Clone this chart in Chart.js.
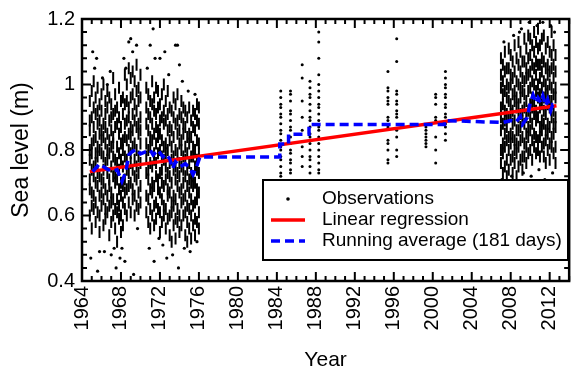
<!DOCTYPE html>
<html lang="en">
<head>
  <meta charset="UTF-8">
  <title>Sea level</title>
  <script src="https://cdn.jsdelivr.net/npm/chart.js"></script>
  <style>
    body { margin: 0; background: #fff; }
  </style>
</head>
<body>
  <canvas id="seaChart" width="579" height="376"></canvas>

  <script>
    // tick labels
    const xTicks = [1964, 1968, 1972, 1976, 1980, 1984, 1988, 1992, 1996, 2000, 2004, 2008, 2012];
    const yTicks = [0.4, 0.6, 0.8, 1, 1.2];

    // dense tide-gauge periods: one column of readings every ~0.2 yr
    const denseYears = [
      1964.8, 1965.0, 1965.2, 1965.4, 1965.6, 1965.8, 1966.0, 1966.2, 1966.4, 1966.6, 1966.8,
      1967.0, 1967.2, 1967.4, 1967.6, 1967.8, 1968.0, 1968.2, 1968.4, 1968.6, 1968.8,
      1969.0, 1969.2, 1969.4, 1969.6, 1969.8, 1970.0,
      1970.6, 1970.8, 1971.0, 1971.2, 1971.4, 1971.6, 1971.8, 1972.0, 1972.2, 1972.4, 1972.6,
      1972.8, 1973.0, 1973.2, 1973.4, 1973.6, 1973.8, 1974.0, 1974.2, 1974.4, 1974.6, 1974.8,
      1975.0, 1975.2, 1975.4, 1975.6, 1975.8, 1976.0,
      2007.0, 2007.2, 2007.4, 2007.6, 2007.8, 2008.0, 2008.2, 2008.4, 2008.6, 2008.8,
      2009.0, 2009.2, 2009.4, 2009.6, 2009.8, 2010.0, 2010.2, 2010.4, 2010.6, 2010.8,
      2011.0, 2011.2, 2011.4, 2011.6, 2011.8, 2012.0, 2012.2, 2012.4, 2012.6
    ];
    const denseValues = [
      [.60,.68,.71,.77,.80,.86,.89,.95], [.56,.63,.67,.74,.79,.82,.90,.98], [.62,.66,.72,.75,.83,.87,.93,1.01],
      [.58,.64,.70,.76,.79,.84,.91,.96], [.61,.69,.73,.78,.81,.88,.92,.99], [.55,.60,.66,.72,.80,.85,.89,.94],
      [.63,.67,.71,.79,.83,.86,.92,.97], [.57,.65,.70,.74,.78,.84,.88,1.00], [.59,.62,.68,.76,.82,.87,.91,.95],
      [.61,.66,.73,.77,.80,.85,.93,.98], [.54,.63,.69,.71,.79,.83,.89,.96],
      [.58,.64,.67,.75,.81,.86,.90,.94], [.60,.65,.72,.78,.82,.84,.91,1.02], [.56,.62,.70,.73,.77,.87,.92,.97],
      [.52,.61,.65,.71,.76,.81,.88,.93], [.59,.63,.68,.74,.79,.85,.90,.99], [.55,.60,.66,.70,.77,.82,.87,.95],
      [.57,.64,.69,.75,.80,.83,.91,.96], [.62,.67,.71,.78,.84,.88,.94,1.03], [.60,.68,.74,.77,.83,.89,.95,1.00],
      [.64,.69,.73,.80,.85,.90,.93,1.05],
      [.61,.70,.76,.79,.84,.87,.96,1.02], [.65,.68,.74,.81,.86,.91,.97,1.04], [.60,.66,.72,.77,.82,.89,.94,1.01],
      [.63,.71,.75,.80,.87,.92,.98,1.06], [.62,.67,.73,.78,.85,.88,.95,.99], [.64,.69,.76,.82,.86,.90,.96,1.03],
      [.61,.66,.73,.78,.82,.88,.93,.99], [.58,.65,.71,.74,.80,.86,.91,.97], [.56,.62,.68,.76,.81,.84,.90,.95],
      [.60,.67,.70,.75,.83,.88,.94,1.01], [.57,.63,.69,.77,.79,.85,.92,.96], [.59,.64,.72,.76,.82,.87,.91,.99],
      [.62,.68,.71,.79,.84,.86,.93,.98], [.55,.61,.67,.73,.80,.85,.89,.94], [.58,.65,.70,.74,.78,.83,.90,.97],
      [.60,.63,.69,.77,.81,.88,.92,1.00], [.56,.62,.71,.75,.79,.82,.89,.95],
      [.59,.66,.68,.73,.80,.86,.91,.98], [.54,.60,.67,.72,.76,.83,.87,.93], [.52,.61,.64,.70,.77,.81,.86,.92],
      [.57,.63,.66,.74,.78,.84,.90,.96], [.53,.59,.65,.71,.75,.80,.88,.94], [.58,.62,.69,.73,.79,.85,.89,.97],
      [.55,.60,.67,.72,.76,.82,.86,.91], [.57,.64,.68,.75,.80,.83,.90,.95], [.60,.65,.70,.74,.78,.85,.88,.93],
      [.54,.61,.66,.72,.77,.81,.87,.92], [.52,.58,.63,.69,.74,.79,.84,.90],
      [.56,.62,.67,.71,.76,.82,.85,.93], [.53,.60,.65,.70,.73,.78,.84,.89], [.57,.63,.69,.72,.78,.81,.87,.92],
      [.54,.59,.64,.70,.75,.80,.86,.91], [.58,.65,.68,.74,.77,.83,.89,.94], [.56,.61,.67,.73,.79,.82,.88,.93],
      [.76,.80,.86,.90,.93,.99,1.03,1.08], [.73,.79,.82,.88,.94,.97,1.01,1.06], [.75,.81,.85,.89,.92,.98,1.04,1.10],
      [.72,.77,.83,.87,.91,.96,1.00,1.05], [.74,.80,.84,.90,.95,.99,1.05,1.11], [.77,.82,.85,.91,.94,1.00,1.03,1.09],
      [.73,.78,.84,.88,.92,.97,1.02,1.07], [.76,.80,.83,.89,.95,.98,1.04,1.12], [.72,.79,.82,.86,.93,.96,1.01,1.08],
      [.75,.81,.86,.90,.94,1.00,1.06,1.13],
      [.77,.83,.87,.91,.96,.99,1.04,1.10], [.74,.78,.84,.89,.92,.98,1.02,1.07], [.78,.82,.88,.93,.97,1.01,1.07,1.14],
      [.76,.81,.85,.90,.95,1.02,1.05,1.11], [.79,.84,.87,.92,.98,1.03,1.08,1.15], [.80,.86,.90,.94,.99,1.04,1.09,1.14],
      [.77,.83,.88,.93,.96,1.01,1.06,1.12], [.81,.85,.91,.95,1.00,1.05,1.10,1.16], [.79,.84,.89,.92,.98,1.03,1.07,1.13],
      [.80,.83,.90,.96,1.00,1.06,1.11,1.17],
      [.78,.84,.87,.93,.97,1.02,1.06,1.12], [.81,.86,.89,.94,.99,1.04,1.08,1.14], [.78,.82,.88,.92,.96,1.01,1.07,1.15],
      [.76,.83,.86,.91,.97,1.00,1.05,1.11], [.80,.85,.88,.94,.98,1.03,1.06,1.13], [.77,.82,.87,.93,.95,1.00,1.04,1.10],
      [.81,.84,.90,.95,.99,1.05,1.09,1.16], [.79,.85,.88,.92,.97,1.02,1.06,1.12], [.76,.81,.87,.90,.96,.99,1.04,1.09]
    ];

    // scattered extreme readings within the dense periods
    const outliers = [
      [1964.9, 0.47], [1965.1, 1.10], [1965.3, 1.05], [1965.5, 1.08], [1965.6, 0.43], [1965.8, 0.49],
      [1966.1, 1.02], [1966.3, 0.49], [1966.6, 1.00], [1966.9, 1.04], [1967.0, 0.48], [1967.3, 0.50],
      [1967.5, 0.44], [1967.9, 0.47], [1968.1, 0.50], [1968.3, 1.08], [1968.4, 0.46], [1968.5, 1.05],
      [1968.8, 1.13], [1969.0, 1.14], [1969.2, 1.10], [1969.3, 0.42], [1969.6, 1.12], [1969.7, 0.56],
      [1970.7, 1.05], [1970.9, 0.50], [1971.0, 1.12], [1971.3, 1.17], [1971.4, 0.46], [1971.5, 1.08],
      [1971.9, 0.53], [1972.0, 1.08], [1972.3, 0.51], [1972.5, 1.10], [1972.7, 0.47], [1972.9, 1.03],
      [1973.3, 0.48], [1973.6, 1.12], [1973.8, 1.12], [1973.9, 0.44], [1974.0, 1.06], [1974.3, 1.01],
      [1974.5, 0.50], [1974.9, 0.98], [1975.1, 0.49], [1975.6, 0.97], [1975.8, 0.52],
      [2007.1, 0.71], [2007.3, 1.13], [2007.5, 0.70], [2008.1, 0.72], [2008.3, 1.15], [2008.7, 0.69],
      [2008.9, 1.16], [2009.1, 1.17], [2009.3, 0.73], [2009.9, 1.19], [2010.1, 0.72], [2010.7, 1.18],
      [2010.9, 0.74], [2011.3, 1.19], [2011.5, 0.71], [2012.1, 1.18], [2012.3, 0.73], [2012.5, 1.16]
    ];

    // short survey campaigns between the long records
    const sparseYears = [1984.4, 1985.4, 1986.6, 1987.4, 1988.3, 1995.4, 1996.3, 1999.3, 2000.3, 2001.3];
    const sparseValues = [
      [.98,.96,.94,.93,.91,.90,.88,.86,.85,.83,.81,.80,.78,.77,.75,.73,.72],
      [.98,.97,.95,.92,.91,.89,.87,.86,.84,.82,.80,.79,.77,.76,.74,.73],
      [1.06,1.02,.95,.90,.86,.81,.78,.75],
      [1.01,.99,.97,.96,.94,.92,.90,.89,.87,.85,.84,.82,.80,.78,.77,.75,.73],
      [1.16,1.13,1.08,1.03,1.00,.98,.96,.94,.93,.91,.89,.87,.86,.84,.82,.80,.78,.76,.74,.73],
      [1.04,.99,.98,.96,.95,.94,.90,.89,.87,.83,.82,.80,.77,.76],
      [1.14,1.07,.98,.97,.95,.94,.92,.91,.90,.86,.84,.80,.78],
      [.87,.86,.85,.84,.83,.82,.81],
      [.97,.96,.94,.90,.89,.84,.80,.76],
      [1.04,1.02,1.00,.99,.97,.96,.94,.93,.91,.90,.88,.87,.85,.83]
    ];

    // linear regression end points
    const fitYears = [1964.8, 2012.7];
    const fitValues = [0.734, 0.935];

    // running average (181 days)
    const avgYears = [
      1965.1, 1965.8, 1966.5, 1967.1, 1967.6, 1968.1, 1968.5, 1968.8, 1969.1, 1969.6, 1970.0,
      1971.0, 1971.3, 1971.8, 1972.3, 1972.6, 1973.0, 1973.3, 1973.6, 1974.1, 1974.6, 1975.1,
      1975.4, 1975.7, 1976.1, 1984.3, 1984.3, 1985.2, 1985.2, 1987.3, 1987.3, 2001.2, 2001.2,
      2007.2, 2008.0, 2008.5, 2009.0, 2009.2, 2009.7, 2010.0, 2010.3, 2010.6, 2010.8, 2011.1,
      2011.3, 2011.6, 2011.8, 2012.1, 2012.3, 2012.6
    ];
    const avgValues = [
      0.734, 0.758, 0.743, 0.734, 0.740, 0.704, 0.734, 0.785, 0.794, 0.803, 0.788,
      0.800, 0.785, 0.800, 0.779, 0.788, 0.773, 0.743, 0.764, 0.749, 0.758, 0.743,
      0.725, 0.743, 0.779, 0.779, 0.818, 0.818, 0.848, 0.848, 0.878, 0.878, 0.890,
      0.884, 0.890, 0.884, 0.902, 0.878, 0.899, 0.944, 0.968, 0.944, 0.959, 0.944,
      0.965, 0.935, 0.953, 0.920, 0.938, 0.935
    ];

    const FONT = "'Liberation Sans', Arial, sans-serif";

    const densePoints = denseYears.flatMap((yr, i) => denseValues[i].map(v => ({ x: yr, y: v })));
    const sparsePoints = sparseYears.flatMap((yr, i) => sparseValues[i].map(v => ({ x: yr, y: v })));
    const outlierPoints = outliers.map(p => ({ x: p[0], y: p[1] }));
    const fitPoints = fitYears.map((yr, i) => ({ x: yr, y: fitValues[i] }));
    const avgPoints = avgYears.map((yr, i) => ({ x: yr, y: avgValues[i] }));

    // box around the plot with inward ticks on all four sides, plus the legend
    const framePlugin = {
      id: 'frame',
      afterDraw(chart) {
        const { ctx, chartArea: a, scales: { x, y } } = chart;
        ctx.save();
        ctx.strokeStyle = '#000';
        ctx.lineWidth = 2;
        ctx.beginPath();
        for (let yr = 1964; yr <= 2014; yr++) {
          const px = x.getPixelForValue(yr);
          const len = xTicks.includes(yr) ? 9 : 5;
          ctx.moveTo(px, a.bottom); ctx.lineTo(px, a.bottom - len);
          ctx.moveTo(px, a.top); ctx.lineTo(px, a.top + len);
        }
        for (let i = 0; i <= 20; i++) {
          const v = Math.round((0.4 + i * 0.04) * 100) / 100;
          const py = y.getPixelForValue(v);
          const len = yTicks.includes(v) ? 9 : 5;
          ctx.moveTo(a.left, py); ctx.lineTo(a.left + len, py);
          ctx.moveTo(a.right, py); ctx.lineTo(a.right - len, py);
        }
        ctx.stroke();
        ctx.lineWidth = 2.5;
        ctx.strokeRect(a.left, a.top, a.right - a.left, a.bottom - a.top);

        // legend
        const lx = 263, ly = 180, lw = 305, lh = 80;
        ctx.fillStyle = '#fff';
        ctx.fillRect(lx, ly, lw, lh);
        ctx.lineWidth = 2;
        ctx.strokeRect(lx, ly, lw, lh);
        const ds = chart.data.datasets;
        const rows = [ly + 19, ly + 40, ly + 61];
        ctx.fillStyle = '#000';
        ctx.beginPath();
        ctx.arc(288, rows[0], 1.8, 0, Math.PI * 2);
        ctx.fill();
        ctx.strokeStyle = ds[1].borderColor;
        ctx.lineWidth = ds[1].borderWidth;
        ctx.beginPath(); ctx.moveTo(271, rows[1]); ctx.lineTo(305, rows[1]); ctx.stroke();
        ctx.strokeStyle = ds[0].borderColor;
        ctx.lineWidth = ds[0].borderWidth;
        ctx.setLineDash(ds[0].borderDash);
        ctx.beginPath(); ctx.moveTo(271, rows[2]); ctx.lineTo(305, rows[2]); ctx.stroke();
        ctx.setLineDash([]);
        ctx.fillStyle = '#000';
        ctx.font = '19px ' + FONT;
        ctx.textBaseline = 'middle';
        ctx.textAlign = 'left';
        ctx.fillText('Observations', 322, rows[0]);
        ctx.fillText('Linear regression', 322, rows[1]);
        ctx.fillText('Running average (181 days)', 322, rows[2]);
        ctx.restore();
      }
    };

    const ctx = document.getElementById('seaChart').getContext('2d');
    new Chart(ctx, {
      type: 'scatter',
      data: {
        datasets: [
          {
            label: 'Running average (181 days)',
            data: avgPoints,
            showLine: true,
            borderColor: '#0000ff',
            borderWidth: 3.5,
            borderDash: [9, 5],
            pointRadius: 0,
            order: 0
          },
          {
            label: 'Linear regression',
            data: fitPoints,
            showLine: true,
            borderColor: '#ff0000',
            borderWidth: 3.5,
            pointRadius: 0,
            order: 1
          },
          {
            label: 'Observations',
            data: densePoints,
            pointStyle: 'line',
            rotation: 90,
            pointRadius: 6,
            pointBorderWidth: 2,
            pointBorderColor: '#000',
            order: 2
          },
          {
            label: 'Observations (campaigns)',
            data: sparsePoints,
            pointRadius: 1.5,
            pointBorderWidth: 0,
            pointBackgroundColor: '#000',
            order: 3
          },
          {
            label: 'Observations (extremes)',
            data: outlierPoints,
            pointRadius: 1.6,
            pointBorderWidth: 0,
            pointBackgroundColor: '#000',
            order: 4
          }
        ]
      },
      options: {
        responsive: false,
        animation: false,
        events: [],
        layout: { padding: { top: 15, right: -2, left: 0, bottom: 0 } },
        plugins: { legend: { display: false }, tooltip: { enabled: false } },
        scales: {
          x: {
            type: 'linear',
            min: 1964,
            max: 2014,
            afterBuildTicks: s => { s.ticks = xTicks.map(v => ({ value: v })); },
            afterFit: s => { s.height = 95; },
            grid: { display: false, drawTicks: false },
            border: { display: false },
            ticks: {
              autoSkip: false,
              minRotation: 90,
              maxRotation: 90,
              padding: 5,
              color: '#000',
              font: { family: FONT, size: 20 },
              callback: v => String(v)
            },
            title: {
              display: true,
              text: 'Year',
              color: '#000',
              font: { family: FONT, size: 21 },
              padding: { top: 0, bottom: 3 }
            }
          },
          y: {
            min: 0.4,
            max: 1.2,
            afterBuildTicks: s => { s.ticks = yTicks.map(v => ({ value: v })); },
            afterFit: s => { s.width = 82; },
            grid: { display: false, drawTicks: false },
            border: { display: false },
            ticks: {
              padding: 7,
              color: '#000',
              font: { family: FONT, size: 20 },
              callback: v => String(v)
            },
            title: {
              display: true,
              text: 'Sea level (m)',
              color: '#000',
              font: { family: FONT, size: 23 },
              padding: { top: 8, bottom: 0 }
            }
          }
        }
      },
      plugins: [framePlugin]
    });
  </script>
</body>
</html>
